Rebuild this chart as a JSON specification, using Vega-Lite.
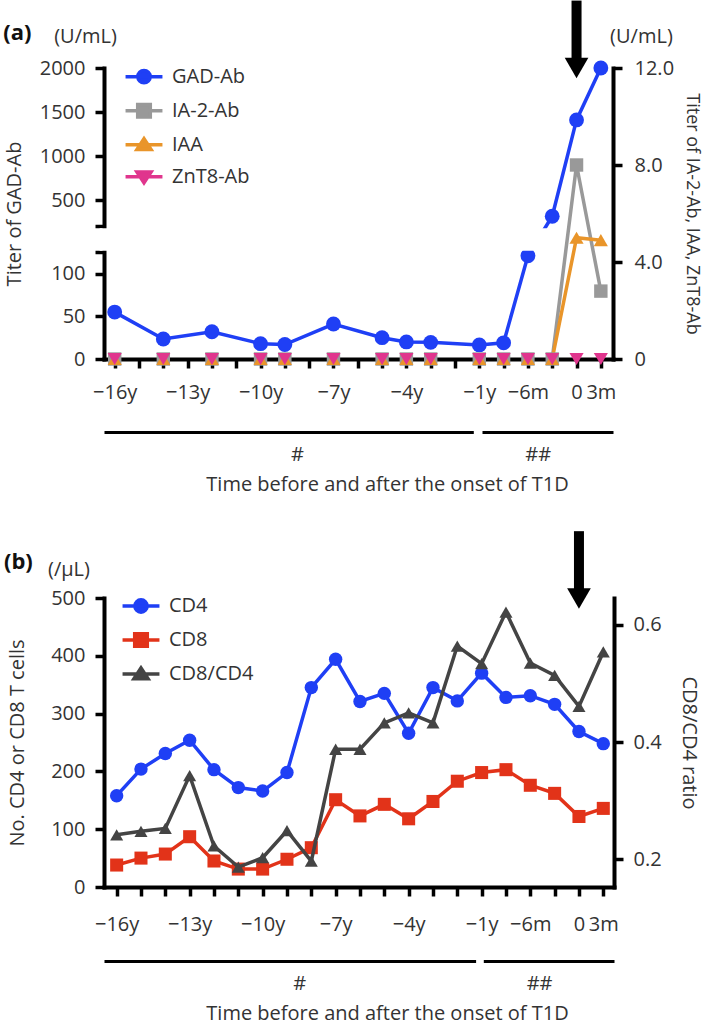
{
  "$schema": "https://vega.github.io/schema/vega-lite/v6.json",
  "background": "white",
  "padding": {"left": 3, "top": 0, "right": 6, "bottom": 5},
  "spacing": 37,
  "config": {
    "font": "Open Sans",
    "view": {"stroke": null},
    "axis": {"domainColor": "#000", "domainWidth": 4, "domainCap": "square", "tickColor": "#000", "tickWidth": 3.5, "tickSize": 9, "labelFontSize": 20, "labelColor": "#333", "titleFontSize": 20, "titleFontWeight": "normal", "titleColor": "#333", "grid": false, "labelOverlap": false, "labelFlush": false, "labelBound": false},
    "legend": {"labelFontSize": 20, "labelColor": "#333", "symbolStrokeWidth": 3.5, "symbolSize": 900, "symbolOpacity": 1}
  },
  "datasets": {
    "a": [
      {"t": 0, "series": "GAD-Ab", "value": 55}, {"t": 2, "series": "GAD-Ab", "value": 23.5}, {"t": 4, "series": "GAD-Ab", "value": 32}, {"t": 6, "series": "GAD-Ab", "value": 18}, {"t": 7, "series": "GAD-Ab", "value": 17}, {"t": 9, "series": "GAD-Ab", "value": 41}, {"t": 11, "series": "GAD-Ab", "value": 25}, {"t": 12, "series": "GAD-Ab", "value": 20}, {"t": 13, "series": "GAD-Ab", "value": 19.5}, {"t": 15, "series": "GAD-Ab", "value": 16.5}, {"t": 16, "series": "GAD-Ab", "value": 19}, {"t": 17, "series": "GAD-Ab", "value": 121}, {"t": 18, "series": "GAD-Ab", "value": 315}, {"t": 19, "series": "GAD-Ab", "value": 1410}, {"t": 20, "series": "GAD-Ab", "value": 2000},
      {"t": 0, "series": "IA-2-Ab", "value": 0}, {"t": 2, "series": "IA-2-Ab", "value": 0}, {"t": 4, "series": "IA-2-Ab", "value": 0}, {"t": 6, "series": "IA-2-Ab", "value": 0}, {"t": 7, "series": "IA-2-Ab", "value": 0}, {"t": 9, "series": "IA-2-Ab", "value": 0}, {"t": 11, "series": "IA-2-Ab", "value": 0}, {"t": 12, "series": "IA-2-Ab", "value": 0}, {"t": 13, "series": "IA-2-Ab", "value": 0}, {"t": 15, "series": "IA-2-Ab", "value": 0}, {"t": 16, "series": "IA-2-Ab", "value": 0}, {"t": 17, "series": "IA-2-Ab", "value": 0}, {"t": 18, "series": "IA-2-Ab", "value": 0}, {"t": 19, "series": "IA-2-Ab", "value": 8.0}, {"t": 20, "series": "IA-2-Ab", "value": 2.8},
      {"t": 0, "series": "IAA", "value": 0}, {"t": 2, "series": "IAA", "value": 0}, {"t": 4, "series": "IAA", "value": 0}, {"t": 6, "series": "IAA", "value": 0}, {"t": 7, "series": "IAA", "value": 0}, {"t": 9, "series": "IAA", "value": 0}, {"t": 11, "series": "IAA", "value": 0}, {"t": 12, "series": "IAA", "value": 0}, {"t": 13, "series": "IAA", "value": 0}, {"t": 15, "series": "IAA", "value": 0}, {"t": 16, "series": "IAA", "value": 0}, {"t": 17, "series": "IAA", "value": 0}, {"t": 18, "series": "IAA", "value": 0}, {"t": 19, "series": "IAA", "value": 5.0}, {"t": 20, "series": "IAA", "value": 4.9},
      {"t": 0, "series": "ZnT8-Ab", "value": 0}, {"t": 2, "series": "ZnT8-Ab", "value": 0}, {"t": 4, "series": "ZnT8-Ab", "value": 0}, {"t": 6, "series": "ZnT8-Ab", "value": 0}, {"t": 7, "series": "ZnT8-Ab", "value": 0}, {"t": 9, "series": "ZnT8-Ab", "value": 0}, {"t": 11, "series": "ZnT8-Ab", "value": 0}, {"t": 12, "series": "ZnT8-Ab", "value": 0}, {"t": 13, "series": "ZnT8-Ab", "value": 0}, {"t": 15, "series": "ZnT8-Ab", "value": 0}, {"t": 16, "series": "ZnT8-Ab", "value": 0}, {"t": 17, "series": "ZnT8-Ab", "value": 0}, {"t": 18, "series": "ZnT8-Ab", "value": 0}, {"t": 19, "series": "ZnT8-Ab", "value": 0}, {"t": 20, "series": "ZnT8-Ab", "value": 0}
    ],
    "b": [
      {"t": 0, "series": "CD4", "value": 158}, {"t": 1, "series": "CD4", "value": 204}, {"t": 2, "series": "CD4", "value": 231}, {"t": 3, "series": "CD4", "value": 254}, {"t": 4, "series": "CD4", "value": 203}, {"t": 5, "series": "CD4", "value": 172}, {"t": 6, "series": "CD4", "value": 166}, {"t": 7, "series": "CD4", "value": 198}, {"t": 8, "series": "CD4", "value": 345}, {"t": 9, "series": "CD4", "value": 394}, {"t": 10, "series": "CD4", "value": 321}, {"t": 11, "series": "CD4", "value": 335}, {"t": 12, "series": "CD4", "value": 266}, {"t": 13, "series": "CD4", "value": 345}, {"t": 14, "series": "CD4", "value": 322}, {"t": 15, "series": "CD4", "value": 370}, {"t": 16, "series": "CD4", "value": 328}, {"t": 17, "series": "CD4", "value": 331}, {"t": 18, "series": "CD4", "value": 316}, {"t": 19, "series": "CD4", "value": 269}, {"t": 20, "series": "CD4", "value": 248},
      {"t": 0, "series": "CD8", "value": 38}, {"t": 1, "series": "CD8", "value": 50}, {"t": 2, "series": "CD8", "value": 57}, {"t": 3, "series": "CD8", "value": 87}, {"t": 4, "series": "CD8", "value": 45}, {"t": 5, "series": "CD8", "value": 31}, {"t": 6, "series": "CD8", "value": 31}, {"t": 7, "series": "CD8", "value": 48}, {"t": 8, "series": "CD8", "value": 68}, {"t": 9, "series": "CD8", "value": 151}, {"t": 10, "series": "CD8", "value": 123}, {"t": 11, "series": "CD8", "value": 143}, {"t": 12, "series": "CD8", "value": 118}, {"t": 13, "series": "CD8", "value": 148}, {"t": 14, "series": "CD8", "value": 183}, {"t": 15, "series": "CD8", "value": 198}, {"t": 16, "series": "CD8", "value": 203}, {"t": 17, "series": "CD8", "value": 176}, {"t": 18, "series": "CD8", "value": 162}, {"t": 19, "series": "CD8", "value": 122}, {"t": 20, "series": "CD8", "value": 136},
      {"t": 0, "series": "CD8/CD4", "value": 0.242}, {"t": 1, "series": "CD8/CD4", "value": 0.248}, {"t": 2, "series": "CD8/CD4", "value": 0.253}, {"t": 3, "series": "CD8/CD4", "value": 0.343}, {"t": 4, "series": "CD8/CD4", "value": 0.223}, {"t": 5, "series": "CD8/CD4", "value": 0.187}, {"t": 6, "series": "CD8/CD4", "value": 0.203}, {"t": 7, "series": "CD8/CD4", "value": 0.249}, {"t": 8, "series": "CD8/CD4", "value": 0.197}, {"t": 9, "series": "CD8/CD4", "value": 0.388}, {"t": 10, "series": "CD8/CD4", "value": 0.388}, {"t": 11, "series": "CD8/CD4", "value": 0.433}, {"t": 12, "series": "CD8/CD4", "value": 0.45}, {"t": 13, "series": "CD8/CD4", "value": 0.433}, {"t": 14, "series": "CD8/CD4", "value": 0.564}, {"t": 15, "series": "CD8/CD4", "value": 0.534}, {"t": 16, "series": "CD8/CD4", "value": 0.622}, {"t": 17, "series": "CD8/CD4", "value": 0.535}, {"t": 18, "series": "CD8/CD4", "value": 0.514}, {"t": 19, "series": "CD8/CD4", "value": 0.461}, {"t": 20, "series": "CD8/CD4", "value": 0.554}
    ]
  },
  "resolve": {"scale": {"x": "independent", "y": "independent", "color": "independent", "fill": "independent", "stroke": "independent", "shape": "independent"}},
  "vconcat": [
    {
      "width": 509,
      "height": 291,
      "resolve": {"scale": {"y": "independent"}, "axis": {"x": "independent", "y": "independent"}},
      "layer": [
        {
          "data": {"name": "a"},
          "transform": [{"filter": "datum.series == 'GAD-Ab'"}],
          "mark": {"type": "line", "strokeWidth": 3.5},
          "encoding": {
            "x": {"field": "t", "type": "quantitative", "scale": {"domain": [-0.44, 20.5], "nice": false, "zero": false},
              "axis": {"values": [0,1,2,3,4,5,6,7,8,9,10,11,12,13,14,15,16,17,18,19,20], "title": null, "tickSize": 9, "labelPadding": 14, "zindex": 0,
                "labelExpr": "datum.value == 0 ? '−16y' : datum.value == 3 ? '−13y' : datum.value == 6 ? '−10y' : datum.value == 9 ? '−7y' : datum.value == 12 ? '−4y' : datum.value == 15 ? '−1y' : datum.value == 17 ? '−6m' : datum.value == 19 ? '0' : datum.value == 20 ? '3m' : ''"}},
            "y": {"field": "value", "type": "quantitative", "scale": {"domain": [0, 125, 200, 2000], "range": [291, 184.4, 158.4, 0], "nice": false, "zero": false},
              "axis": {"orient": "left", "values": [0, 50, 100, 125, 200, 500, 1000, 1500, 2000], "format": "d", "labelExpr": "datum.value == 125 || datum.value == 200 ? '' : datum.label", "title": "Titer of GAD-Ab", "labelPadding": 10, "titlePadding": 15, "zindex": 0}},
            "color": {"field": "series", "type": "nominal", "scale": {"domain": ["GAD-Ab", "IA-2-Ab", "IAA", "ZnT8-Ab"], "range": ["#1f3ff5", "#999999", "#e9952a", "#e0358d"]},
              "legend": {"orient": "none", "legendX": 23, "legendY": -8.3, "title": null, "direction": "vertical", "labelOffset": 11, "rowPadding": 3, "padding": 0}}
          }
        },
        {
          "data": {"name": "a"},
          "transform": [{"filter": "datum.series == 'GAD-Ab'"}],
          "mark": {"type": "point", "shape": "circle", "filled": true, "size": 220, "opacity": 1},
          "encoding": {
            "x": {"field": "t", "type": "quantitative", "axis": null},
            "y": {"field": "value", "type": "quantitative", "scale": {"domain": [0, 125, 200, 2000], "range": [291, 184.4, 158.4, 0], "nice": false, "zero": false}, "axis": null},
            "color": {"field": "series", "type": "nominal"}
          }
        },
        {
          "data": {"values": [{}]},
          "mark": {"type": "rect", "color": "white"},
          "encoding": {
            "x": {"datum": -0.62, "type": "quantitative", "axis": null},
            "x2": {"datum": 20.25},
            "y": {"datum": 130, "type": "quantitative", "scale": {"domain": [0, 125, 200, 2000], "range": [291, 184.4, 158.4, 0], "nice": false, "zero": false}, "axis": null},
            "y2": {"datum": 195}
          }
        },
        {
          "data": {"name": "a"},
          "transform": [{"filter": "datum.t >= 18 && (datum.series == 'IA-2-Ab' || datum.series == 'IAA')"}],
          "mark": {"type": "line", "strokeWidth": 3.5},
          "encoding": {
            "x": {"field": "t", "type": "quantitative",
              "axis": {"orient": "bottom", "offset": 73, "ticks": false, "tickSize": 0, "values": [7.5, 17.4], "labelExpr": "datum.value < 10 ? '#' : '##'", "domainDash": [369.3, 8.7, 300], "domainWidth": 3, "domainCap": "butt", "labelPadding": 12, "title": "Time before and after the onset of T1D", "titlePadding": 10, "titleX": 283, "zindex": 0}},
            "y": {"field": "value", "type": "quantitative", "scale": {"domain": [0, 12], "nice": false, "zero": false},
              "axis": {"orient": "right", "values": [0, 4, 8, 12], "labelExpr": "datum.value == 0 ? '0' : format(datum.value, '.1f')", "title": "Titer of IA-2-Ab, IAA, ZnT8-Ab", "titleFontSize": 18, "labelPadding": 12, "titlePadding": 9, "zindex": 0}},
            "color": {"field": "series", "type": "nominal"}
          }
        },
        {
          "data": {"name": "a"},
          "transform": [{"filter": "datum.series == 'IA-2-Ab'"}],
          "mark": {"type": "point", "shape": "square", "filled": true, "size": 180, "opacity": 1},
          "encoding": {
            "x": {"field": "t", "type": "quantitative", "axis": null},
            "y": {"field": "value", "type": "quantitative", "scale": {"domain": [0, 12], "nice": false, "zero": false}, "axis": null},
            "color": {"field": "series", "type": "nominal"}
          }
        },
        {
          "data": {"name": "a"},
          "transform": [{"filter": "datum.series == 'IAA'"}],
          "mark": {"type": "point", "shape": "triangle-up", "filled": true, "size": 200, "opacity": 1},
          "encoding": {
            "x": {"field": "t", "type": "quantitative", "axis": null},
            "y": {"field": "value", "type": "quantitative", "scale": {"domain": [0, 12], "nice": false, "zero": false}, "axis": null},
            "color": {"field": "series", "type": "nominal"}
          }
        },
        {
          "data": {"name": "a"},
          "transform": [{"filter": "datum.series == 'ZnT8-Ab'"}],
          "mark": {"type": "point", "shape": "triangle-down", "filled": true, "size": 200, "opacity": 1},
          "encoding": {
            "x": {"field": "t", "type": "quantitative", "axis": null},
            "y": {"field": "value", "type": "quantitative", "scale": {"domain": [0, 12], "nice": false, "zero": false}, "axis": null},
            "color": {"field": "series", "type": "nominal"}
          }
        },
        {
          "data": {"name": "a"},
          "transform": [{"filter": "datum.t < -100"}],
          "mark": {"type": "point", "filled": true},
          "encoding": {
            "x": {"field": "t", "type": "quantitative", "axis": null},
            "y": {"field": "value", "type": "quantitative", "scale": {"domain": [0, 12], "nice": false, "zero": false}, "axis": null},
            "fill": {"field": "series", "type": "nominal", "scale": {"domain": ["GAD-Ab", "IA-2-Ab", "IAA", "ZnT8-Ab"], "range": ["#1f3ff5", "#999999", "#e9952a", "#e0358d"]},
              "legend": {"orient": "none", "legendX": 23, "legendY": -8.3, "title": null, "direction": "vertical", "labelOffset": 11, "rowPadding": 3, "padding": 0}},
            "stroke": {"field": "series", "type": "nominal", "scale": {"domain": ["GAD-Ab", "IA-2-Ab", "IAA", "ZnT8-Ab"], "range": ["#1f3ff5", "#999999", "#e9952a", "#e0358d"]},
              "legend": {"orient": "none", "legendX": 23, "legendY": -8.3, "title": null, "direction": "vertical", "labelOffset": 11, "rowPadding": 3, "padding": 0}},
            "shape": {"field": "series", "type": "nominal", "scale": {"domain": ["GAD-Ab", "IA-2-Ab", "IAA", "ZnT8-Ab"], "range": ["M-1.23,0H1.23M0.41,0A0.41,0.41,0,1,1,-0.41,0A0.41,0.41,0,1,1,0.41,0", "M-1.23,0H1.23M-0.42,-0.42H0.42V0.42H-0.42Z", "M-1.23,0H1.23M0,-0.4L0.47,0.32H-0.47Z", "M-1.23,0H1.23M0,0.4L0.47,-0.32H-0.47Z"]},
              "legend": {"orient": "none", "legendX": 23, "legendY": -8.3, "title": null, "direction": "vertical", "labelOffset": 11, "rowPadding": 3, "padding": 0}}
          }
        },
        {
          "data": {"values": [{}]},
          "mark": {"type": "rect", "color": "#000"},
          "encoding": {
            "x": {"datum": 18.794, "type": "quantitative", "axis": null},
            "x2": {"datum": 19.206},
            "y": {"datum": 14.78, "type": "quantitative", "scale": {"domain": [0, 12], "nice": false, "zero": false}, "axis": null},
            "y2": {"datum": 12.33}
          }
        },
        {
          "data": {"values": [{}]},
          "mark": {"type": "point", "shape": "triangle-down", "filled": true, "size": 560, "color": "#000", "opacity": 1},
          "encoding": {
            "x": {"datum": 19, "type": "quantitative", "axis": null},
            "y": {"datum": 12, "type": "quantitative", "scale": {"domain": [0, 12], "nice": false, "zero": false}, "axis": null}
          }
        },
        {
          "data": {"values": [{}]},
          "mark": {"type": "text", "text": "(a)", "fontSize": 22, "fontWeight": "bold", "color": "#111", "align": "center", "baseline": "middle"},
          "encoding": {
            "x": {"datum": -4.0, "type": "quantitative", "axis": null},
            "y": {"datum": 13.46, "type": "quantitative", "scale": {"domain": [0, 12], "nice": false, "zero": false}, "axis": null}
          }
        },
        {
          "data": {"values": [{}]},
          "mark": {"type": "text", "text": "(U/mL)", "fontSize": 20, "color": "#333", "align": "center", "baseline": "middle"},
          "encoding": {
            "x": {"datum": -1.2, "type": "quantitative", "axis": null},
            "y": {"datum": 13.27, "type": "quantitative", "scale": {"domain": [0, 12], "nice": false, "zero": false}, "axis": null}
          }
        },
        {
          "data": {"values": [{}]},
          "mark": {"type": "text", "text": "(U/mL)", "fontSize": 20, "color": "#333", "align": "center", "baseline": "middle"},
          "encoding": {
            "x": {"datum": 21.67, "type": "quantitative", "axis": null},
            "y": {"datum": 13.27, "type": "quantitative", "scale": {"domain": [0, 12], "nice": false, "zero": false}, "axis": null}
          }
        }
      ]
    },
    {
      "width": 510,
      "height": 289,
      "resolve": {"scale": {"y": "independent"}, "axis": {"x": "independent", "y": "independent"}},
      "layer": [
        {
          "data": {"name": "b"},
          "transform": [{"filter": "datum.series != 'CD8/CD4'"}],
          "mark": {"type": "line", "strokeWidth": 3.5},
          "encoding": {
            "x": {"field": "t", "type": "quantitative", "scale": {"domain": [-0.52, 20.44], "nice": false, "zero": false},
              "axis": {"values": [0,1,2,3,4,5,6,7,8,9,10,11,12,13,14,15,16,17,18,19,20], "title": null, "tickSize": 9, "labelPadding": 18, "zindex": 0,
                "labelExpr": "datum.value == 0 ? '−16y' : datum.value == 3 ? '−13y' : datum.value == 6 ? '−10y' : datum.value == 9 ? '−7y' : datum.value == 12 ? '−4y' : datum.value == 15 ? '−1y' : datum.value == 17 ? '−6m' : datum.value == 19 ? '0' : datum.value == 20 ? '3m' : ''"}},
            "y": {"field": "value", "type": "quantitative", "scale": {"domain": [0, 500], "nice": false, "zero": false},
              "axis": {"orient": "left", "values": [0, 100, 200, 300, 400, 500], "format": "d", "title": "No. CD4 or CD8 T cells", "labelPadding": 10, "titlePadding": 23, "zindex": 0}},
            "color": {"field": "series", "type": "nominal", "scale": {"domain": ["CD4", "CD8", "CD8/CD4"], "range": ["#1f3ff5", "#e23319", "#444444"]},
              "legend": {"orient": "none", "legendX": 20, "legendY": -9, "title": null, "direction": "vertical", "labelOffset": 11, "rowPadding": 3, "padding": 0}}
          }
        },
        {
          "data": {"name": "b"},
          "transform": [{"filter": "datum.series == 'CD4'"}],
          "mark": {"type": "point", "shape": "circle", "filled": true, "size": 180, "opacity": 1},
          "encoding": {
            "x": {"field": "t", "type": "quantitative", "axis": null},
            "y": {"field": "value", "type": "quantitative", "scale": {"domain": [0, 500], "nice": false, "zero": false}, "axis": null},
            "color": {"field": "series", "type": "nominal"}
          }
        },
        {
          "data": {"name": "b"},
          "transform": [{"filter": "datum.series == 'CD8'"}],
          "mark": {"type": "point", "shape": "square", "filled": true, "size": 170, "opacity": 1},
          "encoding": {
            "x": {"field": "t", "type": "quantitative", "axis": null},
            "y": {"field": "value", "type": "quantitative", "scale": {"domain": [0, 500], "nice": false, "zero": false}, "axis": null},
            "color": {"field": "series", "type": "nominal"}
          }
        },
        {
          "data": {"name": "b"},
          "transform": [{"filter": "datum.series == 'CD8/CD4'"}],
          "mark": {"type": "line", "strokeWidth": 3.5},
          "encoding": {
            "x": {"field": "t", "type": "quantitative",
              "axis": {"orient": "bottom", "offset": 74, "ticks": false, "tickSize": 0, "values": [7.5, 17.36], "labelExpr": "datum.value < 10 ? '#' : '##'", "domainDash": [371.6, 7.7, 300], "domainWidth": 3, "domainCap": "butt", "labelPadding": 12, "title": "Time before and after the onset of T1D", "titlePadding": 10, "titleX": 283, "zindex": 0}},
            "y": {"field": "value", "type": "quantitative", "scale": {"domain": [0.153, 0.646], "nice": false, "zero": false},
              "axis": {"orient": "right", "values": [0.2, 0.4, 0.6], "format": ".1f", "title": "CD8/CD4 ratio", "labelPadding": 10, "titlePadding": 17, "zindex": 0}},
            "color": {"field": "series", "type": "nominal"}
          }
        },
        {
          "data": {"name": "b"},
          "transform": [{"filter": "datum.series == 'CD8/CD4'"}],
          "mark": {"type": "point", "shape": "triangle-up", "filled": true, "size": 170, "opacity": 1},
          "encoding": {
            "x": {"field": "t", "type": "quantitative", "axis": null},
            "y": {"field": "value", "type": "quantitative", "scale": {"domain": [0.153, 0.646], "nice": false, "zero": false}, "axis": null},
            "color": {"field": "series", "type": "nominal"}
          }
        },
        {
          "data": {"name": "b"},
          "transform": [{"filter": "datum.t < -100"}],
          "mark": {"type": "point", "filled": true},
          "encoding": {
            "x": {"field": "t", "type": "quantitative", "axis": null},
            "y": {"field": "value", "type": "quantitative", "scale": {"domain": [0.153, 0.646], "nice": false, "zero": false}, "axis": null},
            "fill": {"field": "series", "type": "nominal", "scale": {"domain": ["CD4", "CD8", "CD8/CD4"], "range": ["#1f3ff5", "#e23319", "#444444"]},
              "legend": {"orient": "none", "legendX": 20, "legendY": -9, "title": null, "direction": "vertical", "labelOffset": 11, "rowPadding": 3, "padding": 0}},
            "stroke": {"field": "series", "type": "nominal", "scale": {"domain": ["CD4", "CD8", "CD8/CD4"], "range": ["#1f3ff5", "#e23319", "#444444"]},
              "legend": {"orient": "none", "legendX": 20, "legendY": -9, "title": null, "direction": "vertical", "labelOffset": 11, "rowPadding": 3, "padding": 0}},
            "shape": {"field": "series", "type": "nominal", "scale": {"domain": ["CD4", "CD8", "CD8/CD4"], "range": ["M-1.23,0H1.23M0.41,0A0.41,0.41,0,1,1,-0.41,0A0.41,0.41,0,1,1,0.41,0", "M-1.23,0H1.23M-0.42,-0.42H0.42V0.42H-0.42Z", "M-1.23,0H1.23M0,-0.4L0.47,0.32H-0.47Z"]},
              "legend": {"orient": "none", "legendX": 20, "legendY": -9, "title": null, "direction": "vertical", "labelOffset": 11, "rowPadding": 3, "padding": 0}}
          }
        },
        {
          "data": {"values": [{}]},
          "mark": {"type": "rect", "color": "#000"},
          "encoding": {
            "x": {"datum": 18.7945, "type": "quantitative", "axis": null},
            "x2": {"datum": 19.2055},
            "y": {"datum": 0.76, "type": "quantitative", "scale": {"domain": [0.153, 0.646], "nice": false, "zero": false}, "axis": null},
            "y2": {"datum": 0.6597}
          }
        },
        {
          "data": {"values": [{}]},
          "mark": {"type": "point", "shape": "triangle-down", "filled": true, "size": 560, "color": "#000", "opacity": 1},
          "encoding": {
            "x": {"datum": 19, "type": "quantitative", "axis": null},
            "y": {"datum": 0.645, "type": "quantitative", "scale": {"domain": [0.153, 0.646], "nice": false, "zero": false}, "axis": null}
          }
        },
        {
          "data": {"values": [{}]},
          "mark": {"type": "text", "text": "(b)", "fontSize": 22, "fontWeight": "bold", "color": "#111", "align": "center", "baseline": "middle"},
          "encoding": {
            "x": {"datum": -4.04, "type": "quantitative", "axis": null},
            "y": {"datum": 0.708, "type": "quantitative", "scale": {"domain": [0.153, 0.646], "nice": false, "zero": false}, "axis": null}
          }
        },
        {
          "data": {"values": [{}]},
          "mark": {"type": "text", "text": "(/μL)", "fontSize": 20, "color": "#333", "align": "center", "baseline": "middle"},
          "encoding": {
            "x": {"datum": -1.96, "type": "quantitative", "axis": null},
            "y": {"datum": 0.693, "type": "quantitative", "scale": {"domain": [0.153, 0.646], "nice": false, "zero": false}, "axis": null}
          }
        }
      ]
    }
  ]
}
